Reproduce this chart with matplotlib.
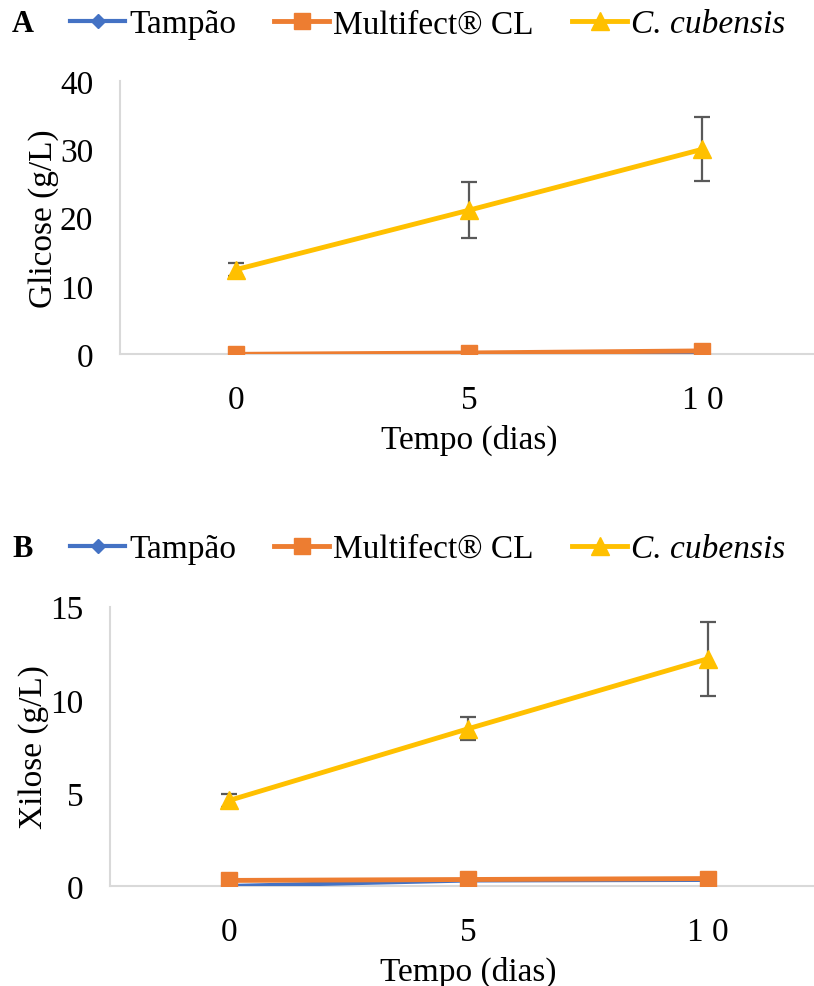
import matplotlib
matplotlib.use("Agg")
import matplotlib.pyplot as plt

plt.rcParams['font.family'] = ['Liberation Serif', 'DejaVu Serif']

dias = [0, 5, 10]
tick_labels = ['0', '5', '1 0']

# Panel A - glicose (g/L)
glic_tampao = [0.0, 0.05, 0.1]
glic_multifect = [0.0, 0.2, 0.5]
glic_cubensis = [12.4, 21.1, 30.0]
glic_cubensis_err = [1.0, 4.1, 4.7]

# Panel B - xilose (g/L)
xil_tampao = [0.0, 0.3, 0.33]
xil_multifect = [0.3, 0.35, 0.4]
xil_cubensis = [4.6, 8.45, 12.2]
xil_cubensis_err = [0.35, 0.6, 2.0]

azul = '#4472C4'
laranja = '#ED7D31'
amarelo = '#FFC000'
cinza = '#D9D9D9'

fig = plt.figure(figsize=(8.14, 9.87), dpi=100)


def painel(rect, letra, y_tam, y_mul, y_cub, err, ymax, yticks, ylabel, leg_y):
    ax = fig.add_axes(rect)
    ax.errorbar(dias, y_cub, yerr=err, fmt='none', ecolor='#595959',
                elinewidth=1.6, capsize=6, capthick=1.6, zorder=2)
    l1, = ax.plot(dias, y_tam, color=azul, lw=3, marker='D', ms=7, zorder=3,
                  label='Tampão')
    l2, = ax.plot(dias, y_mul, color=laranja, lw=3.5, marker='s', ms=11,
                  zorder=4, label='Multifect® CL')
    l3, = ax.plot(dias, y_cub, color=amarelo, lw=3.5, marker='^', ms=13,
                  zorder=5, label='C. cubensis')
    ax.set_xlim(-2.5, 12.5)
    ax.set_ylim(0, ymax)
    ax.set_xticks(dias)
    ax.set_xticklabels(tick_labels)
    ax.set_yticks(yticks)
    for s in ['top', 'right']:
        ax.spines[s].set_visible(False)
    for s in ['left', 'bottom']:
        ax.spines[s].set_color(cinza)
        ax.spines[s].set_linewidth(1.5)
    ax.tick_params(axis='x', length=0, labelsize=24, pad=22)
    ax.tick_params(axis='y', length=0, labelsize=24, pad=19)
    ax.set_xlabel('Tempo (dias)', fontsize=24, labelpad=6)
    ax.set_ylabel(ylabel, fontsize=24, labelpad=1)
    leg = fig.legend(handles=[l1, l2, l3], loc='center left',
                     bbox_to_anchor=(0.086, leg_y), ncol=3, frameon=False,
                     fontsize=24, handlelength=1.65, handletextpad=0.12,
                     columnspacing=1.15, borderaxespad=0, borderpad=0)
    leg.get_texts()[2].set_style('italic')
    fig.text(0.015, leg_y, letra, fontsize=22, fontweight='bold',
             va='center', ha='left')
    return ax


painel([0.147, 0.640, 0.859, 0.277], 'A', glic_tampao, glic_multifect,
       glic_cubensis, glic_cubensis_err, 40, [0, 10, 20, 30, 40],
       'Glicose (g/L)', 1 - 25 / 987)
painel([0.135, 0.1013, 0.881, 0.283], 'B', xil_tampao, xil_multifect,
       xil_cubensis, xil_cubensis_err, 15, [0, 5, 10, 15],
       'Xilose (g/L)', 1 - 550 / 987)

fig.savefig('out.png', dpi=100)
